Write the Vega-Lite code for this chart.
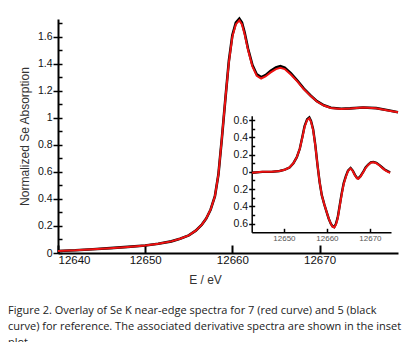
{
  "$schema": "https://vega.github.io/schema/vega-lite/v6.json",
  "width": 340,
  "height": 234,
  "autosize": {"type": "none"},
  "padding": {"left": 58, "top": 19, "right": 19, "bottom": 89},
  "background": "white",
  "title": {
    "text": ["Figure 2. Overlay of Se K near-edge spectra for 7 (red curve) and 5 (black", "curve) for reference. The associated derivative spectra are shown in the inset", "plot."],
    "orient": "bottom", "anchor": "start", "frame": "group", "dx": -50, "offset": 19,
    "font": "Open Sans", "fontSize": 11, "fontWeight": "normal", "lineHeight": 16.3, "color": "#222"
  },
  "datasets": {
    "main": [
      {"E": 12640, "v": 0.015, "s": "5"}, {"E": 12642, "v": 0.02, "s": "5"}, {"E": 12644, "v": 0.028, "s": "5"}, {"E": 12646, "v": 0.036, "s": "5"}, {"E": 12648, "v": 0.045, "s": "5"}, {"E": 12650, "v": 0.056, "s": "5"}, {"E": 12651.5, "v": 0.068, "s": "5"}, {"E": 12653, "v": 0.086, "s": "5"}, {"E": 12654, "v": 0.105, "s": "5"}, {"E": 12655, "v": 0.13, "s": "5"}, {"E": 12655.8, "v": 0.165, "s": "5"}, {"E": 12656.5, "v": 0.21, "s": "5"}, {"E": 12657, "v": 0.255, "s": "5"}, {"E": 12657.5, "v": 0.32, "s": "5"}, {"E": 12658, "v": 0.42, "s": "5"}, {"E": 12658.4, "v": 0.58, "s": "5"}, {"E": 12658.8, "v": 0.85, "s": "5"}, {"E": 12659.2, "v": 1.14, "s": "5"}, {"E": 12659.6, "v": 1.42, "s": "5"}, {"E": 12660, "v": 1.61, "s": "5"}, {"E": 12660.4, "v": 1.703, "s": "5"}, {"E": 12660.8, "v": 1.733, "s": "5"}, {"E": 12661.1, "v": 1.703, "s": "5"}, {"E": 12661.4, "v": 1.632, "s": "5"}, {"E": 12661.8, "v": 1.51, "s": "5"}, {"E": 12662.3, "v": 1.39, "s": "5"}, {"E": 12662.8, "v": 1.32, "s": "5"}, {"E": 12663.3, "v": 1.3, "s": "5"}, {"E": 12663.8, "v": 1.315, "s": "5"}, {"E": 12664.4, "v": 1.347, "s": "5"}, {"E": 12665, "v": 1.372, "s": "5"}, {"E": 12665.5, "v": 1.382, "s": "5"}, {"E": 12666, "v": 1.371, "s": "5"}, {"E": 12666.7, "v": 1.329, "s": "5"}, {"E": 12667.5, "v": 1.271, "s": "5"}, {"E": 12668.2, "v": 1.215, "s": "5"}, {"E": 12669, "v": 1.163, "s": "5"}, {"E": 12669.7, "v": 1.123, "s": "5"}, {"E": 12670.5, "v": 1.092, "s": "5"}, {"E": 12671.3, "v": 1.074, "s": "5"}, {"E": 12672.5, "v": 1.066, "s": "5"}, {"E": 12673.5, "v": 1.069, "s": "5"}, {"E": 12675, "v": 1.076, "s": "5"}, {"E": 12676.5, "v": 1.071, "s": "5"}, {"E": 12678, "v": 1.053, "s": "5"}, {"E": 12679, "v": 1.041, "s": "5"},
      {"E": 12640, "v": 0.015, "s": "7"}, {"E": 12642, "v": 0.02, "s": "7"}, {"E": 12644, "v": 0.028, "s": "7"}, {"E": 12646, "v": 0.036, "s": "7"}, {"E": 12648, "v": 0.045, "s": "7"}, {"E": 12650, "v": 0.056, "s": "7"}, {"E": 12651.5, "v": 0.068, "s": "7"}, {"E": 12653, "v": 0.086, "s": "7"}, {"E": 12654, "v": 0.105, "s": "7"}, {"E": 12655, "v": 0.13, "s": "7"}, {"E": 12655.8, "v": 0.165, "s": "7"}, {"E": 12656.5, "v": 0.21, "s": "7"}, {"E": 12657, "v": 0.255, "s": "7"}, {"E": 12657.5, "v": 0.32, "s": "7"}, {"E": 12658, "v": 0.42, "s": "7"}, {"E": 12658.4, "v": 0.58, "s": "7"}, {"E": 12658.8, "v": 0.85, "s": "7"}, {"E": 12659.2, "v": 1.14, "s": "7"}, {"E": 12659.6, "v": 1.41, "s": "7"}, {"E": 12660, "v": 1.6, "s": "7"}, {"E": 12660.4, "v": 1.69, "s": "7"}, {"E": 12660.8, "v": 1.72, "s": "7"}, {"E": 12661.1, "v": 1.69, "s": "7"}, {"E": 12661.4, "v": 1.62, "s": "7"}, {"E": 12661.8, "v": 1.5, "s": "7"}, {"E": 12662.3, "v": 1.38, "s": "7"}, {"E": 12662.8, "v": 1.31, "s": "7"}, {"E": 12663.3, "v": 1.29, "s": "7"}, {"E": 12663.8, "v": 1.305, "s": "7"}, {"E": 12664.4, "v": 1.335, "s": "7"}, {"E": 12665, "v": 1.36, "s": "7"}, {"E": 12665.5, "v": 1.37, "s": "7"}, {"E": 12666, "v": 1.36, "s": "7"}, {"E": 12666.7, "v": 1.32, "s": "7"}, {"E": 12667.5, "v": 1.265, "s": "7"}, {"E": 12668.2, "v": 1.21, "s": "7"}, {"E": 12669, "v": 1.16, "s": "7"}, {"E": 12669.7, "v": 1.12, "s": "7"}, {"E": 12670.5, "v": 1.09, "s": "7"}, {"E": 12671.3, "v": 1.072, "s": "7"}, {"E": 12672.5, "v": 1.065, "s": "7"}, {"E": 12673.5, "v": 1.068, "s": "7"}, {"E": 12675, "v": 1.075, "s": "7"}, {"E": 12676.5, "v": 1.07, "s": "7"}, {"E": 12678, "v": 1.052, "s": "7"}, {"E": 12679, "v": 1.04, "s": "7"}
    ],
    "deriv": [
      {"E": 12642.6, "d": -0.01, "s": "5"}, {"E": 12645, "d": 0.0, "s": "5"}, {"E": 12647.1, "d": 0.0, "s": "5"}, {"E": 12649, "d": 0.01, "s": "5"}, {"E": 12650.2, "d": 0.025, "s": "5"}, {"E": 12651.3, "d": 0.05, "s": "5"}, {"E": 12652.2, "d": 0.1, "s": "5"}, {"E": 12653, "d": 0.17, "s": "5"}, {"E": 12653.7, "d": 0.27, "s": "5"}, {"E": 12654.3, "d": 0.41, "s": "5"}, {"E": 12654.8, "d": 0.53, "s": "5"}, {"E": 12655.4, "d": 0.61, "s": "5"}, {"E": 12655.9, "d": 0.63, "s": "5"}, {"E": 12656.3, "d": 0.59, "s": "5"}, {"E": 12656.8, "d": 0.49, "s": "5"}, {"E": 12657.3, "d": 0.31, "s": "5"}, {"E": 12657.8, "d": 0.08, "s": "5"}, {"E": 12658.3, "d": -0.12, "s": "5"}, {"E": 12658.8, "d": -0.27, "s": "5"}, {"E": 12659.4, "d": -0.38, "s": "5"}, {"E": 12659.9, "d": -0.46, "s": "5"}, {"E": 12660.4, "d": -0.54, "s": "5"}, {"E": 12660.9, "d": -0.6, "s": "5"}, {"E": 12661.3, "d": -0.63, "s": "5"}, {"E": 12661.7, "d": -0.64, "s": "5"}, {"E": 12662.1, "d": -0.6, "s": "5"}, {"E": 12662.5, "d": -0.53, "s": "5"}, {"E": 12662.9, "d": -0.41, "s": "5"}, {"E": 12663.4, "d": -0.26, "s": "5"}, {"E": 12663.9, "d": -0.13, "s": "5"}, {"E": 12664.4, "d": -0.05, "s": "5"}, {"E": 12664.9, "d": 0.015, "s": "5"}, {"E": 12665.5, "d": 0.045, "s": "5"}, {"E": 12666, "d": 0.015, "s": "5"}, {"E": 12666.5, "d": -0.035, "s": "5"}, {"E": 12667, "d": -0.07, "s": "5"}, {"E": 12667.3, "d": -0.075, "s": "5"}, {"E": 12667.8, "d": -0.05, "s": "5"}, {"E": 12668.5, "d": 0.005, "s": "5"}, {"E": 12669, "d": 0.05, "s": "5"}, {"E": 12669.6, "d": 0.085, "s": "5"}, {"E": 12670.2, "d": 0.11, "s": "5"}, {"E": 12670.8, "d": 0.115, "s": "5"}, {"E": 12671.5, "d": 0.105, "s": "5"}, {"E": 12672.3, "d": 0.075, "s": "5"}, {"E": 12673, "d": 0.045, "s": "5"}, {"E": 12673.5, "d": 0.025, "s": "5"}, {"E": 12674.2, "d": 0.005, "s": "5"}, {"E": 12674.7, "d": -0.005, "s": "5"},
      {"E": 12642.6, "d": -0.01, "s": "7"}, {"E": 12645, "d": 0.0, "s": "7"}, {"E": 12647.1, "d": 0.0, "s": "7"}, {"E": 12649, "d": 0.01, "s": "7"}, {"E": 12650.2, "d": 0.025, "s": "7"}, {"E": 12651.3, "d": 0.05, "s": "7"}, {"E": 12652.2, "d": 0.1, "s": "7"}, {"E": 12653, "d": 0.17, "s": "7"}, {"E": 12653.7, "d": 0.27, "s": "7"}, {"E": 12654.3, "d": 0.4, "s": "7"}, {"E": 12654.8, "d": 0.52, "s": "7"}, {"E": 12655.4, "d": 0.6, "s": "7"}, {"E": 12655.9, "d": 0.62, "s": "7"}, {"E": 12656.3, "d": 0.58, "s": "7"}, {"E": 12656.8, "d": 0.48, "s": "7"}, {"E": 12657.3, "d": 0.3, "s": "7"}, {"E": 12657.8, "d": 0.08, "s": "7"}, {"E": 12658.3, "d": -0.12, "s": "7"}, {"E": 12658.8, "d": -0.27, "s": "7"}, {"E": 12659.4, "d": -0.38, "s": "7"}, {"E": 12659.9, "d": -0.46, "s": "7"}, {"E": 12660.4, "d": -0.54, "s": "7"}, {"E": 12660.9, "d": -0.6, "s": "7"}, {"E": 12661.3, "d": -0.635, "s": "7"}, {"E": 12661.7, "d": -0.645, "s": "7"}, {"E": 12662.1, "d": -0.61, "s": "7"}, {"E": 12662.5, "d": -0.54, "s": "7"}, {"E": 12662.9, "d": -0.42, "s": "7"}, {"E": 12663.4, "d": -0.27, "s": "7"}, {"E": 12663.9, "d": -0.14, "s": "7"}, {"E": 12664.4, "d": -0.06, "s": "7"}, {"E": 12664.9, "d": 0.01, "s": "7"}, {"E": 12665.5, "d": 0.04, "s": "7"}, {"E": 12666, "d": 0.01, "s": "7"}, {"E": 12666.5, "d": -0.04, "s": "7"}, {"E": 12667, "d": -0.075, "s": "7"}, {"E": 12667.3, "d": -0.08, "s": "7"}, {"E": 12667.8, "d": -0.055, "s": "7"}, {"E": 12668.5, "d": 0.0, "s": "7"}, {"E": 12669, "d": 0.045, "s": "7"}, {"E": 12669.6, "d": 0.08, "s": "7"}, {"E": 12670.2, "d": 0.105, "s": "7"}, {"E": 12670.8, "d": 0.11, "s": "7"}, {"E": 12671.5, "d": 0.1, "s": "7"}, {"E": 12672.3, "d": 0.07, "s": "7"}, {"E": 12673, "d": 0.04, "s": "7"}, {"E": 12673.5, "d": 0.02, "s": "7"}, {"E": 12674.2, "d": 0.0, "s": "7"}, {"E": 12674.7, "d": -0.01, "s": "7"}
    ]
  },
  "config": {
    "view": {"stroke": null},
    "axis": {"grid": false, "domainColor": "black", "tickColor": "black", "labelColor": "#222", "titleColor": "#333", "labelFont": "Liberation Sans", "titleFont": "Liberation Sans", "titleFontWeight": "normal"}
  },
  "resolve": {"scale": {"x": "independent", "y": "independent"}},
  "layer": [
    {
      "data": {"name": "main"},
      "transform": [{"filter": "datum.s == '5'"}],
      "mark": {"type": "line", "color": "black", "strokeWidth": 2.6},
      "encoding": {
        "x": {"field": "E", "type": "quantitative",
          "scale": {"domain": [12640, 12679], "nice": false, "zero": false},
          "axis": {"values": [12640, 12650, 12660, 12670], "format": "d", "domainWidth": 2, "tickWidth": 2, "tickSize": -8, "labelPadding": 9, "labelFontSize": 11.5, "labelColor": "#111", "title": "E / eV", "titleFontSize": 12, "titleX": 147, "titlePadding": 9}},
        "y": {"field": "v", "type": "quantitative",
          "scale": {"domain": [0, 1.73], "nice": false, "zero": false},
          "axis": {"orient": "left", "values": [0, 0.2, 0.4, 0.6, 0.8, 1, 1.2, 1.4, 1.6], "format": "~g", "domainWidth": 2, "tickWidth": 1.5, "tickSize": 5, "labelPadding": 1, "labelFontSize": 10.5, "labelColor": "#111", "title": "Normalized Se Absorption", "titleFontSize": 12, "titlePadding": 6}}
      }
    },
    {
      "data": {"name": "main"},
      "transform": [{"filter": "datum.s == '7'"}],
      "mark": {"type": "line", "color": "#ee1111", "strokeWidth": 2},
      "encoding": {
        "x": {"field": "E", "type": "quantitative", "scale": {"domain": [12640, 12679], "nice": false, "zero": false}, "axis": null},
        "y": {"field": "v", "type": "quantitative", "scale": {"domain": [0, 1.73], "nice": false, "zero": false},
          "axis": {"orient": "left", "values": [0, 0.1, 0.2, 0.3, 0.4, 0.5, 0.6, 0.7, 0.8, 0.9, 1, 1.1, 1.2, 1.3, 1.4, 1.5, 1.6, 1.7], "labels": false, "domain": false, "tickSize": -4, "tickWidth": 1.5, "title": null}}
      }
    },
    {
      "data": {"name": "deriv"},
      "transform": [{"filter": "datum.s == '5'"}],
      "mark": {"type": "line", "color": "black", "strokeWidth": 2.4},
      "encoding": {
        "x": {"field": "E", "type": "quantitative",
          "scale": {"domain": [12642.5, 12674.9], "range": [193.7, 333], "nice": false, "zero": false},
          "axis": {"orient": "bottom", "offset": -20.7, "values": [12650, 12660, 12670], "format": "d", "domainWidth": 1.5, "tickWidth": 1.5, "tickSize": -4, "labelPadding": 6, "labelFontSize": 8, "labelColor": "#555", "title": null}},
        "y": {"field": "d", "type": "quantitative",
          "scale": {"domain": [-0.7, 0.65], "range": [213.3, 96.7], "nice": false, "zero": false},
          "axis": {"orient": "left", "offset": -193.7, "values": [-0.6, -0.4, -0.2, 0, 0.2, 0.4, 0.6], "labelExpr": "format(abs(datum.value), '~g')", "domainWidth": 1.5, "tickWidth": 1.5, "tickSize": 3, "labelPadding": 1, "labelFontSize": 10.5, "labelColor": "#111", "title": null}}
      }
    },
    {
      "data": {"name": "deriv"},
      "transform": [{"filter": "datum.s == '7'"}],
      "mark": {"type": "line", "color": "#ee1111", "strokeWidth": 2},
      "encoding": {
        "x": {"field": "E", "type": "quantitative", "scale": {"domain": [12642.5, 12674.9], "range": [193.7, 333], "nice": false, "zero": false}, "axis": null},
        "y": {"field": "d", "type": "quantitative",
          "scale": {"domain": [-0.7, 0.65], "range": [213.3, 96.7], "nice": false, "zero": false},
          "axis": {"orient": "left", "offset": -193.7, "values": [-0.6, -0.5, -0.4, -0.3, -0.2, -0.1, 0, 0.1, 0.2, 0.3, 0.4, 0.5, 0.6], "labels": false, "domain": false, "tickSize": -3, "tickWidth": 1.5, "title": null}}
      }
    }
  ]
}
